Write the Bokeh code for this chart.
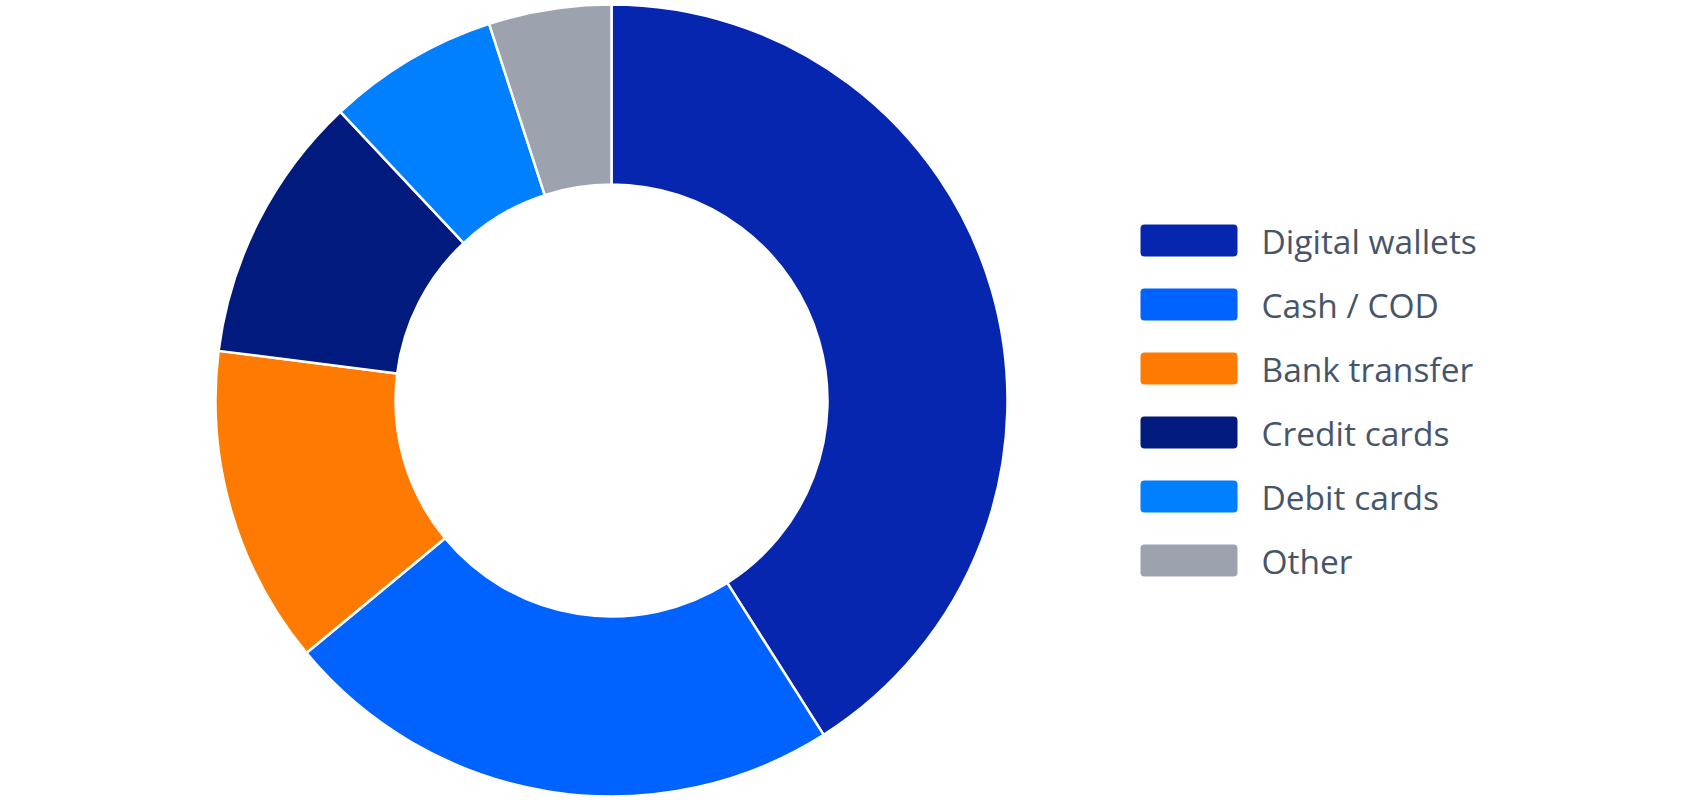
import numpy as np
from bokeh.plotting import figure
from bokeh.models import Range1d, ColumnDataSource
from bokeh.core.properties import value
from bokeh.embed import file_html
from bokeh.resources import INLINE

categories = ["Digital wallets", "Cash / COD", "Bank transfer", "Credit cards", "Debit cards", "Other"]
shares = [41, 23, 13, 11, 7, 5]
colors = ["#0626B0", "#0062FF", "#FF7A00", "#001A7D", "#0080FF", "#9CA3AF"]

W, H = 1672, 800
p = figure(width=W, height=H, output_backend="svg", toolbar_location=None,
           x_range=Range1d(0, W), y_range=Range1d(800 - H, 800),
           min_border=0, outline_line_color=None)
p.axis.visible = False
p.grid.visible = False
p.background_fill_color = "white"
p.border_fill_color = "white"

vals = np.array(shares, dtype=float)
frac = vals / vals.sum()
cum = np.concatenate([[0], np.cumsum(frac)])
start = np.pi / 2 - 2 * np.pi * cum[:-1]
end = np.pi / 2 - 2 * np.pi * cum[1:]

cx, cy = 611, 400
src = ColumnDataSource(dict(start=start, end=end, color=colors, cat=categories))
p.annular_wedge(x=cx, y=cy, inner_radius=216, outer_radius=396,
                start_angle="start", end_angle="end", direction="clock",
                fill_color="color", line_color="white", line_width=2.5, source=src)

# legend
n = len(categories)
ly = [560 - 64 * i for i in range(n)]
lsrc = ColumnDataSource(dict(x=[1188.5] * n, y=ly, tx=[1261] * n, color=colors, cat=categories))
p.rect(x="x", y="y", width=97, height=32, fill_color="color", line_color=None,
       border_radius=4, source=lsrc)
p.text(x="tx", y="y", text="cat", text_font=value("Open Sans"), text_font_size="33.5px",
       text_color="#475569", text_baseline="middle", text_align="left", source=lsrc)

open("out.html", "w").write(file_html(p, INLINE))
